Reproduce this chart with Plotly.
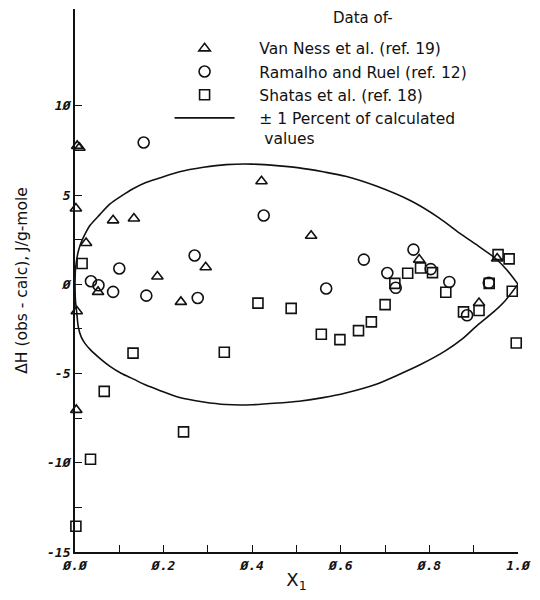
import plotly.graph_objects as go

# Deviations of observed heats of mixing from calculated values, J/g-mole
VAN_NESS_X = [0.005, 0.010, 0.002, 0.025, 0.004, 0.003, 0.052, 0.086, 0.133,
              0.186, 0.239, 0.295, 0.421, 0.533, 0.777, 0.912, 0.953]
VAN_NESS_Y = [7.75, 7.65, 4.24, 2.31, -1.51, -7.04, -0.43, 3.58, 3.68,
              0.43, -0.99, 0.95, 5.77, 2.72, 1.38, -1.05, 1.44]

RAMALHO_X = [0.036, 0.053, 0.086, 0.100, 0.155, 0.161, 0.270, 0.277, 0.426,
             0.567, 0.652, 0.705, 0.724, 0.764, 0.803, 0.845, 0.885, 0.934]
RAMALHO_Y = [0.17, -0.06, -0.43, 0.88, 7.94, -0.64, 1.61, -0.77, 3.85,
             -0.24, 1.38, 0.63, -0.20, 1.94, 0.85, 0.13, -1.74, 0.08]

SHATAS_X = [0.002, 0.016, 0.035, 0.066, 0.131, 0.245, 0.337, 0.413, 0.488,
            0.556, 0.598, 0.640, 0.669, 0.700, 0.722, 0.751, 0.780, 0.807,
            0.837, 0.877, 0.912, 0.935, 0.955, 0.980, 0.987, 0.996]
SHATAS_Y = [-13.56, 1.16, -9.80, -6.00, -3.86, -8.27, -3.81, -1.06, -1.35,
            -2.80, -3.10, -2.60, -2.11, -1.14, 0.05, 0.62, 0.91, 0.65,
            -0.45, -1.55, -1.47, 0.05, 1.66, 1.42, -0.39, -3.29]

# +1 percent and -1 percent of the calculated heats of mixing
UPPER_X = [0.000, 0.001, 0.004, 0.0075, 0.014, 0.022, 0.034, 0.056, 0.079,
           0.105, 0.131, 0.160, 0.191, 0.236, 0.290, 0.341, 0.400, 0.461,
           0.506, 0.560, 0.611, 0.680, 0.760, 0.820, 0.873, 0.910, 0.948,
           0.975, 1.000]
UPPER_Y = [0.00, 0.80, 1.40, 1.85, 2.35, 2.78, 3.30, 3.90, 4.50,
           4.95, 5.35, 5.70, 5.95, 6.30, 6.55, 6.70, 6.73, 6.63,
           6.52, 6.30, 6.05, 5.50, 4.65, 3.75, 2.78, 2.15, 1.47,
           0.80, 0.00]
LOWER_X = [0.000, 0.001, 0.004, 0.0075, 0.014, 0.022, 0.034, 0.056, 0.079,
           0.105, 0.131, 0.160, 0.191, 0.236, 0.290, 0.341, 0.400, 0.461,
           0.506, 0.560, 0.611, 0.680, 0.723, 0.780, 0.835, 0.875, 0.910,
           0.945, 0.970, 1.000]
LOWER_Y = [0.00, -0.90, -1.60, -2.40, -2.95, -3.30, -3.65, -4.15, -4.60,
           -5.00, -5.30, -5.65, -5.95, -6.35, -6.60, -6.74, -6.75, -6.65,
           -6.55, -6.35, -6.09, -5.60, -5.15, -4.50, -3.75, -3.05, -2.26,
           -1.55, -0.95, 0.00]

X_TICKS = [0.0, 0.1, 0.2, 0.3, 0.4, 0.5, 0.6, 0.7, 0.8, 0.9, 1.0]
X_TICK_TEXT = ["Ø.Ø", "", "Ø.2", "", "Ø.4", "", "Ø.6", "", "Ø.8", "", "1.Ø"]
Y_TICKS = [-15, -12.5, -10, -7.5, -5, -2.5, 0, 2.5, 5, 7.5, 10]
Y_TICK_TEXT = ["-15", "", "-1Ø", "", "-5", "", "Ø", "", "5", "", "1Ø"]

LABEL_FONT = "DejaVu Sans, Liberation Sans, sans-serif"
TICK_FONT = "DejaVu Sans Mono, Liberation Mono, monospace"
INK = "#111111"
PAD = "\u00a0\u00a0\u00a0\u00a0"  # gap between legend key and its label

fig = go.Figure()

# envelope drawn as two smooth branches meeting at the pure-component ends
envelope_line = dict(color=INK, width=1.6, shape="spline", smoothing=0.8)
fig.add_trace(go.Scatter(
    x=UPPER_X, y=UPPER_Y, mode="lines", line=envelope_line,
    name=PAD + "± 1 Percent of calculated<br>" + PAD + "\u00a0values",
    legendgroup="envelope", legendrank=4, cliponaxis=False,
))
fig.add_trace(go.Scatter(
    x=LOWER_X, y=LOWER_Y, mode="lines", line=envelope_line,
    legendgroup="envelope", showlegend=False, cliponaxis=False,
))

marker_line = dict(color=INK, width=1.6)
fig.add_trace(go.Scatter(
    x=VAN_NESS_X, y=VAN_NESS_Y, mode="markers",
    marker=dict(symbol="triangle-up-open", size=10, color=INK, line=marker_line),
    name=PAD + "Van Ness et al. (ref. 19)", legendrank=1, cliponaxis=False,
))
fig.add_trace(go.Scatter(
    x=RAMALHO_X, y=RAMALHO_Y, mode="markers",
    marker=dict(symbol="circle-open", size=11, color=INK, line=marker_line),
    name=PAD + "Ramalho and Ruel (ref. 12)", legendrank=2, cliponaxis=False,
))
fig.add_trace(go.Scatter(
    x=SHATAS_X, y=SHATAS_Y, mode="markers",
    marker=dict(symbol="square-open", size=10, color=INK, line=marker_line),
    name=PAD + "Shatas et al. (ref. 18)", legendrank=3, cliponaxis=False,
))

fig.add_annotation(
    text="Data of-", xref="paper", yref="paper", x=0.65, y=0.983,
    xanchor="center", yanchor="middle", showarrow=False,
    font=dict(family=LABEL_FONT, size=15, color=INK),
)

axis_common = dict(
    showgrid=False, zeroline=False, showline=True, linecolor=INK, linewidth=1.8,
    ticks="inside", ticklen=7, tickwidth=1.4, tickcolor=INK, mirror=False,
    tickfont=dict(family=TICK_FONT, size=13, color=INK, weight="bold", style="italic"),
)

fig.update_layout(
    width=540, height=600,
    margin=dict(l=75, r=20, t=9, b=48),
    paper_bgcolor="white", plot_bgcolor="white",
    showlegend=True,
    legend=dict(
        xref="paper", yref="paper", x=0.2135, y=0.958,
        xanchor="left", yanchor="top", valign="top",
        font=dict(family=LABEL_FONT, size=15.5, color=INK),
        bgcolor="rgba(0,0,0,0)", borderwidth=0, itemwidth=60,
        tracegroupgap=0,
    ),
    xaxis=dict(
        range=[0, 1], tickvals=X_TICKS, ticktext=X_TICK_TEXT,
        title=dict(text="X<sub>1</sub>", standoff=2,
                   font=dict(family=LABEL_FONT, size=18, color=INK)),
        **axis_common,
    ),
    yaxis=dict(
        range=[-15, 15.42], tickvals=Y_TICKS, ticktext=Y_TICK_TEXT,
        title=dict(text="ΔH (obs - calc), J/g-mole", standoff=16,
                   font=dict(family=LABEL_FONT, size=15.5, color=INK)),
        **axis_common,
    ),
)

fig.write_html("out.html")
